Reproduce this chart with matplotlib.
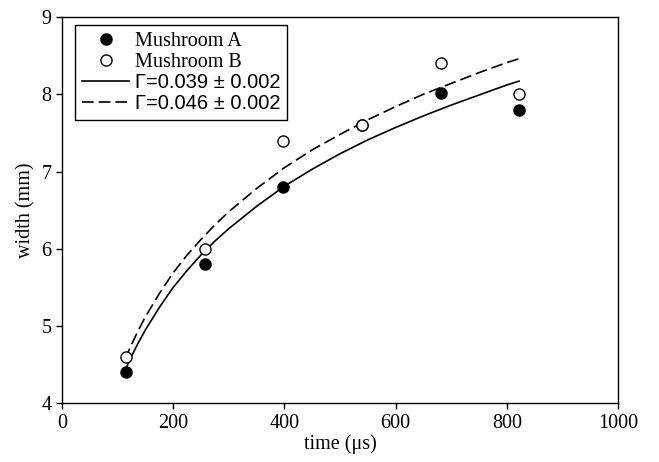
import matplotlib
matplotlib.use("Agg")
import matplotlib.pyplot as plt

# Measured data
time_a = [115, 257, 398, 540, 681, 822]
width_a = [4.40, 5.80, 6.80, 7.60, 8.01, 7.80]
time_b = [115, 257, 398, 540, 681, 822]
width_b = [4.60, 6.00, 7.40, 7.60, 8.40, 8.00]

# Fit curves
fit_t = [113, 125, 137, 150, 175, 200, 225, 250, 275, 300, 350, 400, 450, 500,
         550, 600, 650, 700, 750, 800, 822]
fit_a = [4.42, 4.61, 4.78, 4.95, 5.24, 5.50, 5.72, 5.92, 6.10, 6.26, 6.55, 6.81,
         7.03, 7.23, 7.41, 7.57, 7.72, 7.86, 7.99, 8.12, 8.17]
fit_b = [4.57, 4.76, 4.94, 5.12, 5.42, 5.69, 5.92, 6.12, 6.31, 6.48, 6.78, 7.05,
         7.28, 7.48, 7.67, 7.84, 8.00, 8.14, 8.28, 8.41, 8.46]

labels = ["Mushroom A", "Mushroom B", "Γ=0.039 ± 0.002", "Γ=0.046 ± 0.002"]
x_ticks = [0, 200, 400, 600, 800, 1000]
y_ticks = [4, 5, 6, 7, 8, 9]

serif = ["Liberation Serif", "DejaVu Serif"]
sans = ["Liberation Sans", "DejaVu Sans"]
fs = 14.5

fig = plt.figure(figsize=(6.59, 4.62), dpi=100)
ax = fig.add_axes([62 / 659, 1 - 403.3 / 462, (618 - 62) / 659, (403.3 - 17) / 462])

ax.plot(time_a, width_a, "o", color="black", markersize=8, label=labels[0], zorder=3)
ax.plot(time_b, width_b, "o", markerfacecolor="white", markeredgecolor="black",
        markeredgewidth=1.0, markersize=8, label=labels[1], zorder=3)
ax.plot(fit_t, fit_a, "-", color="black", linewidth=1.2, label=labels[2], zorder=2)
ax.plot(fit_t, fit_b, color="black", linewidth=1.2, dashes=(7, 3), label=labels[3], zorder=2)

ax.set_xlim(0, 1000)
ax.set_ylim(4, 9)
ax.set_xticks(x_ticks)
ax.set_yticks(y_ticks)
ax.tick_params(direction="out", length=4.5, width=1, pad=3, labelsize=fs)
for lab in ax.get_xticklabels() + ax.get_yticklabels():
    lab.set_fontfamily(serif)
for s in ax.spines.values():
    s.set_linewidth(1.0)

ax.set_xlabel("time (μs)", fontsize=fs, family=serif, labelpad=1)
ax.set_ylabel("width (mm)", fontsize=fs, family=serif, labelpad=4)

leg = ax.legend(loc="upper left", bbox_to_anchor=(0.024, 0.98), frameon=True, fancybox=False,
                edgecolor="black", framealpha=1, borderpad=0.35, labelspacing=0.08,
                handlelength=2.3, handletextpad=0.3, borderaxespad=0, fontsize=fs)
leg.get_frame().set_linewidth(1.0)
texts = leg.get_texts()
texts[0].set_fontfamily(serif)
texts[1].set_fontfamily(serif)
texts[2].set_fontfamily(sans)
texts[3].set_fontfamily(sans)

fig.savefig("out.png", dpi=100)
